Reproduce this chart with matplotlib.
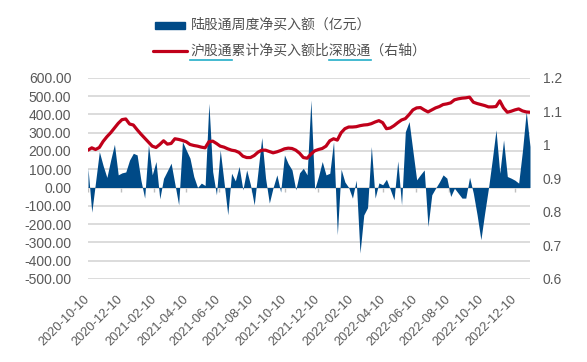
import matplotlib.pyplot as plt
import matplotlib.transforms as mtransforms
from matplotlib.lines import Line2D
from matplotlib.patches import Rectangle
import pandas as pd

# weekly data
weeks = pd.date_range("2020-10-10", periods=118, freq="7D")

net_buy = [105, -135, 30, 196, 120, 55, 150, 236, 69, 80,
           85, 150, 187, 178, 40, -58, 233, 69, 142, -62,
           50, 91, 133, 19, -95, 251, 205, 160, 60, 0,
           24, 11, 460, 87, -40, 205, 30, -149, 78, 36,
           115, -13, 96, 15, -95, 90, 273, 51, -85, 0,
           69, -25, 178, 130, 96, -13, 80, 105, 69, 478,
           -10, 60, 142, 69, 78, 251, -258, 100, 30, 0,
           -58, 40, -358, -150, -110, 224, -58, 25, 15, 45,
           -10, -67, 145, -95, 305, 360, 200, 42, 70, 96,
           -213, -40, -4, 30, 69, 51, -49, -4, -31, -58,
           -58, 56, -31, -150, -285, -140, -4, 150, 315, 78,
           260, 60, 51, 40, 24, 200, 415, 224]

ratio = [0.984, 0.991, 0.986, 0.992, 1.010, 1.024, 1.036, 1.050, 1.064, 1.075,
         1.077, 1.062, 1.059, 1.045, 1.032, 1.020, 1.008, 0.996, 0.992, 1.001,
         1.012, 1.002, 1.004, 1.018, 1.016, 1.013, 1.009, 1.001, 0.998, 0.996,
         0.993, 0.991, 1.009, 1.011, 1.004, 0.996, 0.993, 0.988, 0.984, 0.982,
         0.977, 0.966, 0.962, 0.962, 0.968, 0.978, 0.984, 0.984, 0.980, 0.976,
         0.979, 0.983, 0.988, 0.990, 0.989, 0.984, 0.975, 0.962, 0.960, 0.972,
         0.982, 0.986, 0.989, 0.996, 1.012, 1.018, 1.014, 1.036, 1.048, 1.053,
         1.053, 1.054, 1.057, 1.059, 1.060, 1.063, 1.068, 1.072, 1.066, 1.048,
         1.050, 1.057, 1.066, 1.074, 1.078, 1.090, 1.104, 1.110, 1.111, 1.104,
         1.098, 1.104, 1.110, 1.114, 1.120, 1.122, 1.125, 1.134, 1.137, 1.139,
         1.140, 1.142, 1.127, 1.123, 1.120, 1.117, 1.113, 1.113, 1.114, 1.131,
         1.110, 1.097, 1.100, 1.104, 1.107, 1.101, 1.098, 1.097]

tick_labels = ["2020-10-10", "2020-12-10", "2021-02-10", "2021-04-10",
               "2021-06-10", "2021-08-10", "2021-10-10", "2021-12-10",
               "2022-02-10", "2022-04-10", "2022-06-10", "2022-08-10",
               "2022-10-10", "2022-12-10"]
left_ticks = list(range(-500, 601, 100))
right_ticks = [0.6, 0.7, 0.8, 0.9, 1.0, 1.1, 1.2]

legend_bar = "陆股通周度净买入额（亿元）"
legend_line = "沪股通累计净买入额比深股通（右轴）"

navy = "#004A87"
red = "#C0001A"
grey_txt = "#595959"
grid_c = "#D9D9D9"

plt.rcParams["font.family"] = ["Liberation Sans", "Noto Sans CJK SC"]

W, H = 587, 362
fig = plt.figure(figsize=(W / 100, H / 100), dpi=100)
ax = fig.add_axes([88 / W, 1 - 279 / H, (530 - 88) / W, (279 - 77.7) / H])

tick_dates = pd.to_datetime(tick_labels)

ax.fill_between(weeks, 0, net_buy, color=navy, linewidth=0, zorder=2)
ax.vlines(tick_dates, -22, 0, color="#BFBFBF", linewidth=1, zorder=1)
ax.set_ylim(-500, 600)
ax.set_xlim(weeks[0], weeks[-1])
ax.set_yticks(left_ticks)
ax.set_yticklabels([f"{v:.2f}" for v in left_ticks])
ax.yaxis.grid(True, color=grid_c, linewidth=1.3)
ax.set_axisbelow(True)

ax.set_xticks(tick_dates)
ax.set_xticklabels(tick_labels, rotation=45, ha="right", va="center",
                   rotation_mode="anchor")
shift = mtransforms.ScaledTranslation(9 / 100, 0, fig.dpi_scale_trans)
for lab in ax.get_xticklabels():
    lab.set_transform(lab.get_transform() + shift)
ax.tick_params(axis="x", length=0, pad=13.5, labelsize=9.2, labelcolor=grey_txt)
ax.tick_params(axis="y", length=0, pad=12, labelsize=10, labelcolor=grey_txt)

ax2 = ax.twinx()
ax2.plot(weeks, ratio, color=red, linewidth=2.3, solid_capstyle="round", zorder=3)
ax2.set_ylim(0.6, 1.2)
ax2.set_yticks(right_ticks)
ax2.set_yticklabels([f"{v:g}" for v in right_ticks])
ax2.tick_params(axis="y", length=0, pad=9, labelsize=10, labelcolor=grey_txt)

for a in (ax, ax2):
    for sp in a.spines.values():
        sp.set_visible(False)

# legend drawn by hand at the top
fig.patches.append(Rectangle((155 / W, 1 - 28.5 / H), 30 / W, 7 / H,
                             transform=fig.transFigure, color=navy))
fig.lines.append(Line2D([153 / W, 187 / W], [1 - 51 / H, 1 - 51 / H],
                        transform=fig.transFigure, color=red, linewidth=2.3,
                        solid_capstyle="round"))
cjk = ["Noto Sans CJK SC", "DejaVu Sans"]
fig.text(190.5 / W, 1 - 25 / H, legend_bar, family=cjk, fontsize=10,
         color="#505050", va="center", ha="left")
t2 = fig.text(190.5 / W, 1 - 51 / H, legend_line, family=cjk, fontsize=10,
              color="#505050", va="center", ha="left")

# cyan underlines under 沪股通 and 深股通
fig.canvas.draw()
bb = t2.get_window_extent()
cw = bb.width / len(legend_line)
uy = 1 - 59.5 / H
for start in (0, 10):
    x0 = (bb.x0 + start * cw) / W
    x1 = (bb.x0 + (start + 3) * cw) / W
    fig.lines.append(Line2D([x0, x1], [uy, uy], transform=fig.transFigure,
                            color="#22AEC8", linewidth=1.2))

fig.savefig("out.png", dpi=100)
